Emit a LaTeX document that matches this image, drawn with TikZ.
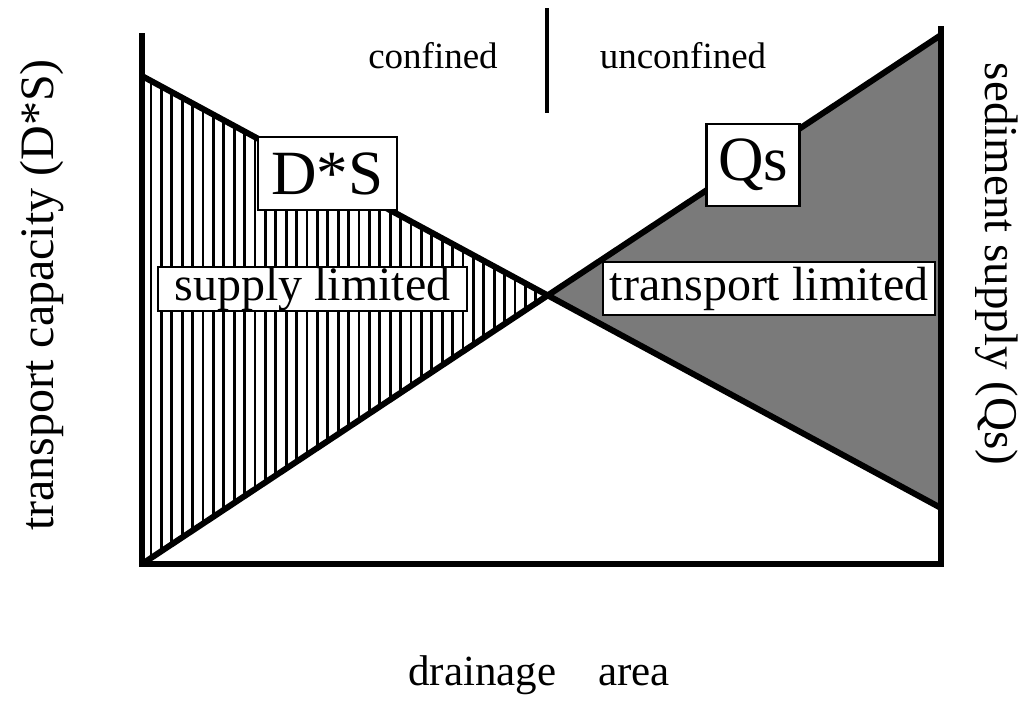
\documentclass[tikz,border=0pt]{standalone}
\usepackage{fontspec}
\setmainfont{Liberation Serif}
\usepackage{tikz}
\usetikzlibrary{positioning, calc}
\tikzset{
    axisline/.style={line width=6pt, line cap=rect},
    curve/.style={line width=6pt, line cap=round},
    hatchline/.style={line width=2.8pt},
    labelbox/.style={rectangle, draw=black, fill=white, line width=2.8pt, inner sep=0pt, text centered},
    plain/.style={inner sep=0pt}
}
\newcommand{\fs}[1]{\fontsize{#1}{#1}\selectfont}

\begin{document}
\begin{tikzpicture}[x=1pt, y=-1pt]
        \useasboundingbox (0,0) rectangle (1034,702);

        % Corner points
        \coordinate (origin) at (142,564);
        \coordinate (ytop) at (142,36);
        \coordinate (xend) at (941,564);
        \coordinate (rtop) at (941,29);
        \coordinate (ds0) at (142,76);
        \coordinate (ds1) at (941,508);
        \coordinate (qs0) at (142,564);
        \coordinate (qs1) at (941,35);
        \coordinate (cross) at (548,295);

        % Supply limited zone (vertical hatching)
        \begin{scope}
            \clip (ds0) -- (cross) -- (qs0) -- cycle;
            \foreach \i in {0,...,39}
                \draw[hatchline] ({151+\i*10.4},60) -- ++(0,520);
        \end{scope}

        % Transport limited zone (shaded)
        \fill[black!52] (cross) -- (qs1) -- (ds1) -- cycle;

        % Curves
        \draw[curve] (ds0) -- (ds1);
        \draw[curve] (qs0) -- (qs1);

        % Axes
        \draw[axisline] (ytop) -- (origin) -- (xend);
        \draw[axisline] (rtop) -- (xend);

        % Confined / unconfined divide
        \coordinate (divtop) at (547,8);
        \coordinate (divbot) at (547,113);
        \draw[line width=3.5pt] (divtop) -- (divbot);
        \node (conf) [plain, anchor=base, font=\fs{37}] at (433,68) {confined};
        \node (unconf) [plain, anchor=base, font=\fs{37}] at (683,68) {unconfined};

        % Curve labels
        \node (dslab) [labelbox, minimum width=139pt, minimum height=73pt, font=\fs{63}] at (327.5,173.5) {D*S};
        \node (qslab) [labelbox, minimum width=93pt, minimum height=82pt, font=\fs{63}] at (753,165) {Qs};

        % Zone labels
        \node (supply) [labelbox, line width=2.2pt, minimum width=309pt, minimum height=42pt, font=\fs{48}] at (312.5,289) {supply limited};
        \node (transport) [labelbox, minimum width=332pt, minimum height=53pt, font=\fs{48}] at (769,288.5) {transport limited};

        % Axis titles
        \node (ylab) [plain, rotate=90, anchor=base, font=\fs{48}] at (53,295) {transport capacity (D*S)};
        \node (rlab) [plain, rotate=-90, anchor=base, font=\fs{47}] at (985,264) {sediment supply (Qs)};
        \node (xlab) [plain, anchor=base west, font=\fs{43}] at (408,685) {drainage\hspace{42pt}area};
\end{tikzpicture}
\end{document}
